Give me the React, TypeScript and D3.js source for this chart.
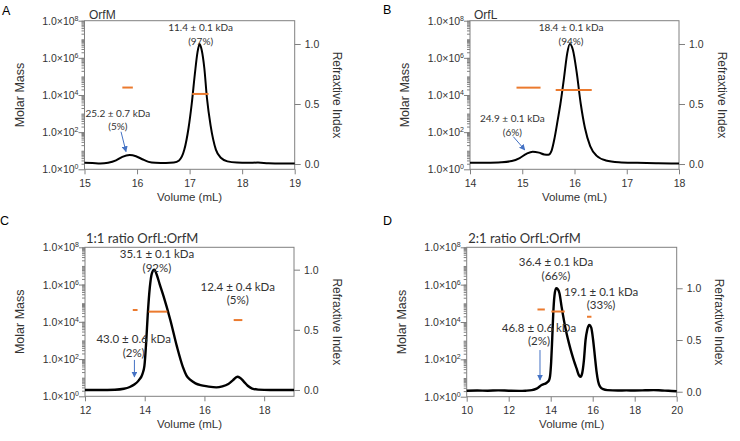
import React, { useEffect, useRef } from "react";
import * as d3 from "d3";

type Pt = [number, number];

// refractive index traces: [elution volume (mL), normalised RI]
const riOrfM: Pt[] = [
  [15.0, 0.01], [15.15, 0.008], [15.3, 0.004], [15.45, 0.01], [15.6, 0.03],
  [15.72, 0.06], [15.86, 0.075], [15.98, 0.065], [16.1, 0.04], [16.22, 0.018],
  [16.35, 0.01], [16.55, 0.008], [16.7, 0.012], [16.8, 0.03], [16.9, 0.12],
  [16.98, 0.3], [17.04, 0.5], [17.1, 0.75], [17.15, 0.93], [17.19, 1.0],
  [17.23, 0.95], [17.28, 0.8], [17.33, 0.55], [17.4, 0.32], [17.5, 0.12],
  [17.6, 0.05], [17.72, 0.022], [17.9, 0.012], [18.1, 0.01], [18.3, 0.012],
  [18.5, 0.006], [18.75, 0.004], [19.0, 0.004],
];

const riOrfL: Pt[] = [
  [14.0, 0.01], [14.3, 0.011], [14.6, 0.015], [14.8, 0.025], [14.95, 0.05],
  [15.08, 0.085], [15.2, 0.103], [15.32, 0.095], [15.42, 0.08], [15.5, 0.077],
  [15.56, 0.11], [15.62, 0.22], [15.68, 0.37], [15.73, 0.5], [15.8, 0.72],
  [15.86, 0.92], [15.91, 1.0], [15.97, 0.95], [16.04, 0.77], [16.12, 0.5],
  [16.2, 0.3], [16.3, 0.15], [16.42, 0.07], [16.6, 0.03], [16.85, 0.015],
  [17.2, 0.01], [17.6, 0.006], [18.0, 0.004],
];

const riMix11: Pt[] = [
  [12.0, 0.0], [12.5, 0.0], [13.0, 0.002], [13.3, 0.01], [13.5, 0.025],
  [13.65, 0.045], [13.8, 0.08], [13.92, 0.13], [13.99, 0.2], [14.05, 0.4],
  [14.1, 0.62], [14.17, 0.85], [14.24, 0.97], [14.32, 1.0], [14.4, 0.96],
  [14.5, 0.88], [14.63, 0.78], [14.86, 0.58], [15.08, 0.36], [15.28, 0.19],
  [15.4, 0.12], [15.53, 0.083], [15.7, 0.055], [15.87, 0.04], [16.1, 0.03],
  [16.4, 0.022], [16.6, 0.03], [16.8, 0.05], [16.95, 0.08], [17.1, 0.11],
  [17.2, 0.1], [17.32, 0.07], [17.45, 0.035], [17.6, 0.012], [17.8, 0.003],
  [18.2, 0.0], [19.0, 0.0],
];

const riMix21: Pt[] = [
  [10.0, 0.01], [10.5, 0.012], [11.0, 0.01], [11.5, 0.013], [12.0, 0.01],
  [12.5, 0.008], [12.8, 0.01], [13.1, 0.015], [13.33, 0.03], [13.57, 0.065],
  [13.81, 0.087], [13.92, 0.11], [13.97, 0.15], [14.02, 0.28], [14.07, 0.5],
  [14.12, 0.75], [14.18, 0.93], [14.26, 1.0], [14.34, 0.99], [14.42, 0.95],
  [14.52, 0.82], [14.64, 0.68], [14.76, 0.56], [14.88, 0.46], [15.0, 0.37],
  [15.12, 0.29], [15.24, 0.22], [15.34, 0.16], [15.42, 0.145], [15.5, 0.18],
  [15.58, 0.3], [15.66, 0.5], [15.74, 0.6], [15.84, 0.645], [15.93, 0.62],
  [16.02, 0.5], [16.1, 0.35], [16.18, 0.2], [16.26, 0.1], [16.35, 0.05],
  [16.5, 0.025], [16.7, 0.016], [17.2, 0.012], [17.6, 0.013], [18.0, 0.012],
  [18.5, 0.014], [18.9, 0.016], [19.3, 0.012], [19.6, 0.01], [20.0, 0.005],
];

// MALS molar mass over each peak: volume window (mL) and mass (kDa)
const massOrfM = [
  { v0: 15.72, v1: 15.92, kDa: 25.2 },
  { v0: 17.05, v1: 17.36, kDa: 11.4 },
];
const massOrfL = [
  { v0: 14.89, v1: 15.35, kDa: 24.9 },
  { v0: 15.64, v1: 16.33, kDa: 18.4 },
];
const massMix11 = [
  { v0: 13.6, v1: 13.76, kDa: 43.0 },
  { v0: 14.13, v1: 14.76, kDa: 35.1 },
  { v0: 16.98, v1: 17.27, kDa: 12.4 },
];
const massMix21 = [
  { v0: 13.37, v1: 13.72, kDa: 46.8 },
  { v0: 14.03, v1: 14.67, kDa: 36.4 },
  { v0: 15.73, v1: 15.94, kDa: 19.1 },
];

// peak labels anchored at [volume, RI] (first line baseline)
const labelsOrfM = [
  { at: [17.21, 1.108], lines: ["11.4 ± 0.1 kDa", "(97%)"] },
  { at: [15.634, 0.392], lines: ["25.2 ± 0.7 kDa", "(5%)"] },
];
const labelsOrfL = [
  { at: [15.933, 1.108], lines: ["18.4 ± 0.1 kDa", "(94%)"] },
  { at: [14.81, 0.35], lines: ["24.9 ± 0.1 kDa", "(6%)"] },
];
const labelsMix11 = [
  { at: [14.41, 1.096], lines: ["35.1 ± 0.1 kDa", "(92%)"] },
  { at: [17.115, 0.825], lines: ["12.4 ± 0.4 kDa", "(5%)"] },
  { at: [13.63, 0.3875], lines: ["43.0 ± 0.6 kDa", "(2%)"] },
];
const labelsMix21 = [
  { at: [14.25, 1.211], lines: ["36.4 ± 0.1 kDa", "(66%)"] },
  { at: [16.4, 0.9255], lines: ["19.1 ± 0.1 kDa", "(33%)"] },
  { at: [13.44, 0.582], lines: ["46.8 ± 0.6 kDa", "(2%)"] },
];

const arrowsOrfM = [{ from: [15.695, 0.269], to: [15.79, 0.103] }];
const arrowsOrfL = [{ from: [14.83, 0.2275], to: [15.05, 0.117] }];
const arrowsMix11 = [{ from: [13.655, 0.25], to: [13.655, 0.108] }];
const arrowsMix21 = [{ from: [13.49, 0.403], to: [13.49, 0.113] }];

const panels = [
  {
    letter: "A", letterAt: [2, 15], title: "OrfM", titleAt: [89, 18.5], titleFont: "sans",
    left: 84.5, right: 294.7, top: 20.7, bottom: 169.3,
    vol: [15, 19], volTicks: [15, 16, 17, 18, 19], ri: [-0.044, 1.194],
    trace: riOrfM, mass: massOrfM, labels: labelsOrfM, arrows: arrowsOrfM, lw: 2, labelSize: 10,
  },
  {
    letter: "B", letterAt: [383, 14], title: "OrfL", titleAt: [474, 18.5], titleFont: "sans",
    left: 470, right: 679, top: 20.7, bottom: 169.3,
    vol: [14, 18], volTicks: [14, 15, 16, 17, 18], ri: [-0.044, 1.194],
    trace: riOrfL, mass: massOrfL, labels: labelsOrfL, arrows: arrowsOrfL, lw: 2, labelSize: 10,
  },
  {
    letter: "C", letterAt: [0, 224.5], title: "1:1 ratio OrfL:OrfM", titleAt: [86, 242.7], titleFont: "hum",
    left: 85, right: 294, top: 247.3, bottom: 396.3,
    vol: [12, 19], volTicks: [12, 14, 16, 18], ri: [-0.0525, 1.1858],
    trace: riMix11, mass: massMix11, labels: labelsMix11, arrows: arrowsMix11, lw: 2.4, labelSize: 11.5,
  },
  {
    letter: "D", letterAt: [383, 224.5], title: "2:1 ratio OrfL:OrfM", titleAt: [468.3, 242.7], titleFont: "hum",
    left: 466.7, right: 676.7, top: 247.3, bottom: 396.7,
    vol: [10, 20], volTicks: [10, 12, 14, 16, 18, 20], ri: [-0.048, 1.396],
    trace: riMix21, mass: massMix21, labels: labelsMix21, arrows: arrowsMix21, lw: 2.4, labelSize: 11.5,
  },
];

const SANS = "'Liberation Sans', Arial, sans-serif";
const HUM = "Lato, 'Open Sans', sans-serif";
const AXIS = "#808080";
const INK = "#333";
const ORANGE = "#EB7A2E";
const BLUE = "#4472C4";

function drawPanel(root: any, p: any) {
  const x = d3.scaleLinear().domain(p.vol).range([p.left, p.right]);
  const yRI = d3.scaleLinear().domain(p.ri).range([p.bottom, p.top]);
  const yM = d3.scaleLog().domain([1, 1e8]).range([p.bottom, p.top]);
  const g = root.append("g");

  // volume axis
  g.append("g")
    .attr("transform", `translate(0,${p.bottom})`)
    .call(d3.axisBottom(x).tickValues(p.volTicks).tickSize(5).tickPadding(5).tickFormat(d3.format("d")));

  // molar mass axis (log), minor then major ticks
  const minor: number[] = [];
  for (let e = 0; e < 8; e++) for (let m = 2; m <= 10; m++) minor.push(m * 10 ** e);
  g.append("g")
    .attr("transform", `translate(${p.left},0)`)
    .call(d3.axisLeft(yM).tickValues(minor).tickSize(3).tickFormat(() => ""));
  const major = [1, 1e2, 1e4, 1e6, 1e8];
  g.append("g")
    .attr("transform", `translate(${p.left},0)`)
    .call(d3.axisLeft(yM).tickValues(major).tickSize(6).tickFormat(() => ""));

  // refractive index axis
  g.append("g")
    .attr("transform", `translate(${p.right},0)`)
    .call(d3.axisRight(yRI).tickValues([0, 0.5, 1]).tickSize(6).tickPadding(4).tickFormat(d3.format(".1f")));

  g.selectAll(".domain").remove();
  g.selectAll(".tick line").attr("stroke", AXIS);
  g.selectAll(".tick text").attr("fill", INK).attr("font-size", 10.5).attr("font-family", SANS);

  g.append("rect")
    .attr("x", p.left).attr("y", p.top)
    .attr("width", p.right - p.left).attr("height", p.bottom - p.top)
    .attr("fill", "none").attr("stroke", AXIS);

  const mLab = g.selectAll("text.mm").data(major).join("text")
    .attr("class", "mm")
    .attr("x", p.left - 6)
    .attr("y", (d: number) => yM(d) + 4)
    .attr("text-anchor", "end")
    .attr("font-family", SANS).attr("font-size", 10.5).attr("fill", INK);
  mLab.append("tspan").text("1.0×10");
  mLab.append("tspan").attr("dy", -4).attr("font-size", 7).text((d: number) => Math.round(Math.log10(d)));

  // RI trace
  const line = d3.line<Pt>().x(d => x(d[0])).y(d => yRI(d[1])).curve(d3.curveMonotoneX);
  g.append("path").datum(p.trace).attr("d", line)
    .attr("fill", "none").attr("stroke", "#000").attr("stroke-width", p.lw).attr("stroke-linejoin", "round");

  // molar mass across peaks
  g.selectAll("line.mass").data(p.mass).join("line")
    .attr("class", "mass")
    .attr("x1", (d: any) => x(d.v0)).attr("x2", (d: any) => x(d.v1))
    .attr("y1", (d: any) => yM(d.kDa * 1000)).attr("y2", (d: any) => yM(d.kDa * 1000))
    .attr("stroke", ORANGE).attr("stroke-width", 2);

  // arrows
  g.selectAll("line.arr").data(p.arrows).join("line")
    .attr("class", "arr")
    .attr("x1", (d: any) => x(d.from[0])).attr("y1", (d: any) => yRI(d.from[1]))
    .attr("x2", (d: any) => x(d.to[0])).attr("y2", (d: any) => yRI(d.to[1]))
    .attr("stroke", BLUE).attr("stroke-width", 1).attr("marker-end", "url(#head)");

  // peak labels
  p.labels.forEach((l: any) => {
    const t = g.append("text")
      .attr("text-anchor", "middle")
      .attr("font-family", HUM).attr("font-size", p.labelSize).attr("fill", INK);
    l.lines.forEach((s: string, i: number) => {
      t.append("tspan").attr("x", x(l.at[0])).attr("y", yRI(l.at[1]) + i * 13.5).text(s);
    });
  });

  // titles
  g.append("text").attr("x", p.letterAt[0]).attr("y", p.letterAt[1])
    .attr("font-family", SANS).attr("font-size", 12.5).attr("fill", "#000").text(p.letter);
  g.append("text").attr("x", p.titleAt[0]).attr("y", p.titleAt[1])
    .attr("font-family", p.titleFont === "sans" ? SANS : HUM)
    .attr("font-size", p.titleFont === "sans" ? 12 : 13).attr("fill", INK).text(p.title);

  const midY = (p.top + p.bottom) / 2;
  g.append("text")
    .attr("transform", `translate(${p.left - 65},${midY}) rotate(-90)`)
    .attr("text-anchor", "middle").attr("dy", "0.35em")
    .attr("font-family", SANS).attr("font-size", 12.5).attr("fill", INK).text("Molar Mass");
  g.append("text")
    .attr("transform", `translate(${p.right + 43},${midY}) rotate(90)`)
    .attr("text-anchor", "middle").attr("dy", "0.35em")
    .attr("font-family", SANS).attr("font-size", 12).attr("fill", INK).text("Refraxtive Index");
  g.append("text")
    .attr("x", (p.left + p.right) / 2).attr("y", p.bottom + 31.5)
    .attr("text-anchor", "middle")
    .attr("font-family", SANS).attr("font-size", 11.5).attr("fill", INK).text("Volume (mL)");
}

export default function App() {
  const ref = useRef<SVGSVGElement>(null);

  useEffect(() => {
    const svg = d3.select(ref.current);
    svg.selectAll("*").remove();
    svg.append("defs").append("marker")
      .attr("id", "head")
      .attr("viewBox", "0 0 10 10")
      .attr("refX", 9).attr("refY", 5)
      .attr("markerWidth", 6).attr("markerHeight", 6)
      .attr("orient", "auto")
      .append("path").attr("d", "M0,0L10,5L0,10z").attr("fill", BLUE);
    panels.forEach(p => drawPanel(svg, p));
  }, []);

  return (
    <svg
      ref={ref}
      width={740}
      height={441}
      style={{ position: "absolute", left: 0, top: 0, background: "#fff" }}
    />
  );
}
